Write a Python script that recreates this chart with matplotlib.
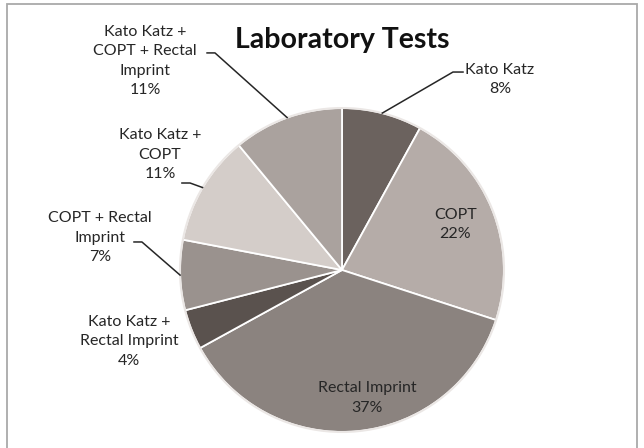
import numpy as np
import matplotlib
matplotlib.use("Agg")
import matplotlib.pyplot as plt
from matplotlib.patches import Rectangle

# ---- data ----
categories = ["Kato Katz", "COPT", "Rectal Imprint", "Kato Katz +\nRectal Imprint",
              "COPT + Rectal\nImprint", "Kato Katz +\nCOPT",
              "Kato Katz +\nCOPT + Rectal\nImprint"]
values = [8, 22, 37, 4, 7, 11, 11]
colors = ["#6b625e", "#b5aca8", "#8b837f", "#5a524e", "#9a928e", "#d4cdc9", "#aaa29e"]
title = "Laboratory Tests"

# label layout (axes data units, pie radius = 1)
label_pos = [(0.975, 1.175), (0.70, 0.28), (0.155, -0.79), (-1.315, -0.44),
             (-1.494, 0.20), (-1.123, 0.71), (-1.216, 1.29)]
# leader knees and ends (None = no leader)
leaders = [((0.685, 1.222), (0.747, 1.222)), None, None, None,
           ((-1.235, 0.173), (-1.284, 0.173)),
           ((-0.938, 0.537), (-0.988, 0.537)),
           ((-0.784, 1.34), (-0.833, 1.34))]

W, H = 644, 448
fig = plt.figure(figsize=(W / 100, H / 100), dpi=100)
fig.patch.set_facecolor("white")

cx, cy, r = 342, 270, 162
ax = fig.add_axes([(cx - r) / W, (H - cy - r) / H, 2 * r / W, 2 * r / H])

wedges, _ = ax.pie(values, colors=colors, startangle=90, counterclock=False,
                   radius=1.0, center=(0, 0),
                   wedgeprops=dict(edgecolor="white", linewidth=1.3))
ax.set_xlim(-1, 1)
ax.set_ylim(-1, 1)
ax.set_aspect("equal")
ax.axis("off")
# outer light rim
circle = plt.Circle((0, 0), 1.0, fill=False, edgecolor="#ebe7e5", linewidth=1.5,
                    zorder=5, clip_on=False)
ax.add_patch(circle)

font = "Lato"
txt_color = "#262626"
for w, v, cat, pos, ld in zip(wedges, values, categories, label_pos, leaders):
    ax.text(pos[0], pos[1], f"{cat}\n{v}%", ha="center", va="center",
            fontsize=11.5, family=font, color=txt_color, linespacing=1.5,
            clip_on=False)
    if ld is not None:
        mid = np.deg2rad((w.theta1 + w.theta2) / 2)
        ex, ey = np.cos(mid), np.sin(mid)
        (kx, ky), (sx, sy) = ld
        ax.plot([ex, kx, sx], [ey, ky, sy], color="#262626", linewidth=1.1,
                clip_on=False, zorder=6)

fig.text(342 / W, 1 - 40 / H, title, ha="center", va="center", fontsize=20.5,
         fontweight="bold", family=font, color="#111111")

# outer border
fig.patches.append(Rectangle((7 / W, -0.02), (637 - 7) / W, 1.02 - 4 / H,
                             transform=fig.transFigure, fill=False,
                             edgecolor="#a9a9a9", linewidth=1.3))

fig.savefig("out.png", dpi=100, facecolor="white")
